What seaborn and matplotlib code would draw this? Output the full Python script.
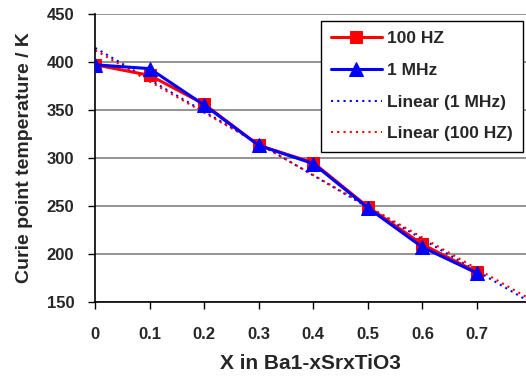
import matplotlib
matplotlib.use('Agg')
import matplotlib.pyplot as plt
import seaborn as sns
import pandas as pd
import numpy as np

# values
x_vals = [0, 0.1, 0.2, 0.3, 0.4, 0.5, 0.6, 0.7]
t_100hz = [397, 386, 356, 313, 295, 249, 210, 181]
t_1mhz = [397, 393, 355, 313, 294, 248, 207, 180]
x_ticks = [0, 0.1, 0.2, 0.3, 0.4, 0.5, 0.6, 0.7]
y_ticks = [150, 200, 250, 300, 350, 400, 450]

sns.set_style("white")
plt.rcParams['font.family'] = ['Liberation Sans', 'DejaVu Sans']
plt.rcParams['font.weight'] = 'bold'

df = pd.DataFrame({'x': x_vals, '100 HZ': t_100hz, '1 MHz': t_1mhz})

fig = plt.figure(figsize=(5.26, 3.76), dpi=100)
ax = fig.add_axes([0.181, 0.197, 0.819, 0.766])

# horizontal grid
for y in y_ticks:
    ax.axhline(y, color='#808080', lw=1.2, zorder=0)

sns.lineplot(data=df, x='x', y='100 HZ', ax=ax, color='red', lw=2.2,
             marker='s', markersize=8, markeredgecolor='red', label='100 HZ', zorder=3)
sns.lineplot(data=df, x='x', y='1 MHz', ax=ax, color='blue', lw=2.2,
             marker='^', markersize=9.5, markeredgecolor='blue', label='1 MHz', zorder=4)

# linear trendlines extended to the right edge
xfit = np.array([0, 0.8])
for col, c, lab in [('1 MHz', 'blue', 'Linear (1 MHz)'), ('100 HZ', 'red', 'Linear (100 HZ)')]:
    k, b = np.polyfit(df['x'], df[col], 1)
    ax.plot(xfit, k * xfit + b, color=c, ls=(0, (1, 2)), lw=1.5, label=lab, zorder=2)

ax.set_xlim(0, 0.79)
ax.set_ylim(150, 450)
ax.set_xticks(x_ticks)
ax.set_xticklabels([f'{v:g}' for v in x_ticks])
ax.set_yticks(y_ticks)
ax.tick_params(axis='both', labelsize=12, length=5, width=1, color='black')
ax.tick_params(axis='x', direction='out', bottom=True, pad=13)
ax.tick_params(axis='y', direction='out', left=True, pad=10)
for s in ['top', 'right']:
    ax.spines[s].set_visible(False)
for s in ['left', 'bottom']:
    ax.spines[s].set_color('black')
    ax.spines[s].set_linewidth(1.2)

ax.set_xlabel('X in Ba1-xSrxTiO3', fontsize=15, fontweight='bold', labelpad=9)
ax.set_ylabel('Curie point temperature / K', fontsize=14, fontweight='bold', labelpad=10)

leg = ax.legend(loc='upper right', bbox_to_anchor=(0.993, 0.976), borderaxespad=0,
                fontsize=12.5, frameon=True, fancybox=False, edgecolor='black',
                framealpha=1, handlelength=2.9, borderpad=0.6, labelspacing=0.95,
                handletextpad=0.3)
leg.get_frame().set_linewidth(1.0)

fig.savefig('out.png', dpi=100)
